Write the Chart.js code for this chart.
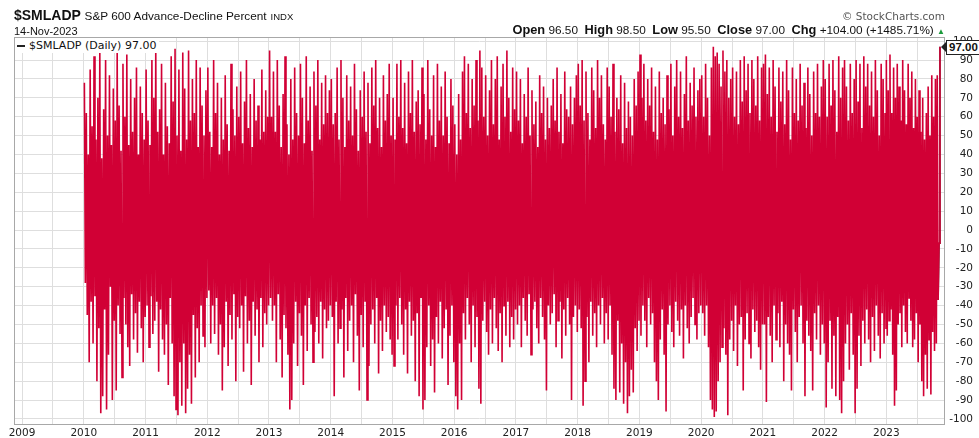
<!DOCTYPE html>
<html><head><meta charset="utf-8">
<script src="https://cdn.jsdelivr.net/npm/chart.js@4.4.0/dist/chart.umd.min.js"></script>
<style>
body{margin:0;background:#fff;}
#wrap{position:relative;width:979px;height:438px;overflow:hidden;}
#c{position:absolute;left:0;top:0;}
.t{position:absolute;white-space:nowrap;line-height:1;color:#111;}
#tag{position:absolute;font:bold 11.5px 'Liberation Sans',Arial,sans-serif;border:1px solid #222;background:#fff;padding:1px 2px 1px 2px;line-height:1;color:#111;}
#ptr{position:absolute;width:0;height:0;border-top:5px solid transparent;border-bottom:5px solid transparent;border-right:5px solid #222;}
</style></head>
<body>
<div id="wrap">
<canvas id="c" width="979" height="438"></canvas>
<div class="t" style="left:14px;top:7px;font:bold 14px 'Liberation Sans',Arial,sans-serif;">$SMLADP <span style="font:normal 11.8px 'Liberation Sans',Arial,sans-serif;">S&amp;P 600 Advance-Decline Percent</span> <span style="font:normal 9.5px 'Liberation Sans',Arial,sans-serif;">INDX</span></div>
<div class="t" style="left:14px;top:25px;font:11px 'Liberation Sans',Arial,sans-serif;">14-Nov-2023</div>
<div class="t" style="right:34px;top:10px;font:10.5px 'DejaVu Sans',sans-serif;color:#555;">© StockCharts.com</div>
<div class="t" id="ohlc" style="right:34px;top:22px;font:11.8px 'Liberation Sans',Arial,sans-serif;"><b style="font-size:12.8px">Open</b> 96.50 &nbsp;<b style="font-size:12.8px">High</b> 98.50 &nbsp;<b style="font-size:12.8px">Low</b> 95.50 &nbsp;<b style="font-size:12.8px">Close</b> 97.00 &nbsp;<b style="font-size:12.8px">Chg</b> +104.00 (+1485.71%) <span style="color:#1a9a3a;font-size:8px">▲</span></div>
<div class="t" id="legend" style="left:15px;top:38px;background:#fff;padding:1px 3px 1px 2px;font:11px 'DejaVu Sans',sans-serif;"><span style="display:inline-block;width:8px;height:2px;background:#222;vertical-align:middle;margin-right:4px;"></span>$SMLADP (Daily) 97.00</div>
<div id="ptr"></div>
<div id="tag"></div>
</div>
<script>
// Years shown on the axis
const yearTicks = [2009,2010,2011,2012,2013,2014,2015,2016,2017,2018,2019,2020,2021,2022,2023];
const valueTicks = [-100,-90,-80,-70,-60,-50,-40,-30,-20,-10,0,10,20,30,40,50,60,70,80,90,100];
// Estimated Advance-Decline Percent samples, per year
const y2010 = [78,-28,62,-45,40,-70,85,-38,55,-60,92,-35,48,-80,70,-52,95,-97,38,-88,64,-42,90,-95,50,-66,82,-30,45,-90,75,-48,58,-85,94,-40,66,-55,42,-78,88,-36,60,-50,93,-62,45,-72,80,-34,52,-58,70,-44,86,-65,40,-38,76,-52,62,-70,48,-46];
const y2011 = [85,-40,58,-62,45,-35,90,-55,70,-48,96,-38,52,-75,64,-42,88,-58,40,-66,78,-50,55,-82,46,-36,92,-60,68,-88,96,-95,50,-98,85,-70,42,-93,94,-60,75,-97,48,-84,95,-66,58,-92,80,-45,62,-78,90,-52,44,-70,86,-40,66,-56,50,-62,74,-36];
const y2012 = [86,-32,52,-60,44,-40,90,-55,62,-36,78,-66,40,-50,70,-85,48,-62,82,-38,56,-72,42,-45,88,-58,64,-34,50,-80,76,-46,60,-52,84,-40,46,-75,68,-35,90,-60,54,-48,72,-82,44,-38,80,-56,58,-42,66,-70,48,-36,85,-62,52,-44,74,-50,60,-40];
const y2013 = [95,-36,60,-48,84,-40,52,-70,90,-34,66,-58,44,-78,72,-45,92,-52,56,-66,40,-95,80,-90,48,-60,86,-38,62,-72,50,-44,88,-56,70,-82,46,-40,92,-64,58,-36,76,-50,42,-70,84,-54,66,-46,90,-60,48,-38,78,-68,56,-42,82,-52,62,-48,74,-40];
const y2014 = [80,-46,56,-88,62,-38,86,-60,48,-52,90,-42,70,-78,44,-36,82,-64,58,-48,76,-40,50,-70,88,-34,64,-56,42,-85,74,-45,60,-62,84,-38,52,-90,78,-72,46,-50,86,-42,66,-60,90,-36,54,-76,70,-48,44,-64,82,-40,58,-54,72,-46,88,-58,50,-66];
const y2015 = [70,-72,48,-40,88,-58,60,-36,90,-50,54,-66,78,-42,46,-76,84,-38,62,-56,90,-48,52,-80,68,-44,74,-88,56,-36,86,-95,72,-90,48,-62,90,-40,64,-72,50,-58,82,-86,44,-46,88,-60,58,-38,76,-68,50,-52,84,-42,60,-82,46,-56,80,-40,66,-70];
const y2016 = [56,-88,40,-95,72,-60,48,-90,84,-44,92,-58,62,-36,88,-50,54,-70,80,-40,66,-62,90,-46,58,-84,95,-92,86,-48,60,-38,82,-54,50,-66,74,-42,90,-60,56,-36,80,-52,92,-64,48,-44,76,-70,88,-40,60,-56,95,-38,70,-62,52,-46,86,-58,64,-42];
const y2017 = [84,-50,58,-40,80,-62,46,-36,72,-48,60,-56,86,-34,50,-66,74,-42,56,-38,68,-52,44,-60,82,-36,62,-46,76,-58,48,-85,70,-40,54,-50,66,-44,80,-34,58,-62,86,-48,52,-38,72,-68,46,-42,84,-56,64,-36,60,-50,76,-90,56,-46,70,-40,82,-54];
const y2018 = [88,-42,66,-52,90,-93,58,-80,84,-46,62,-70,48,-38,86,-56,74,-44,54,-62,90,-40,70,-50,82,-36,56,-60,48,-44,86,-58,76,-40,60,-66,88,-84,52,-90,70,-48,64,-86,82,-60,46,-92,78,-70,54,-97,68,-88,60,-74,50,-86,80,-52,66,-64,84,-48];
const y2019 = [93,-56,70,-40,88,-48,58,-62,80,-36,66,-50,86,-44,52,-70,76,-80,48,-90,84,-58,62,-42,70,-66,56,-96,82,-50,64,-40,88,-54,50,-62,76,-38,90,-48,60,-56,84,-42,54,-68,72,-40,92,-52,58,-60,78,-46,66,-36,86,-50,60,-58,74,-44,80,-40];
const y2020 = [82,-44,60,-56,88,-40,70,-62,50,-90,86,-95,97,-99,92,-96,94,-80,88,-70,76,-62,95,-52,84,-66,90,-98,70,-58,80,-48,86,-64,60,-40,84,-72,56,-50,90,-46,68,-85,92,-58,74,-44,88,-60,62,-68,90,-42,80,-54,66,-48,92,-62,58,-74,86,-50];
const y2021 = [88,-50,93,-91,72,-46,86,-56,60,-70,90,-40,76,-58,52,-44,86,-62,68,-38,84,-80,56,-50,90,-60,74,-66,48,-85,86,-42,62,-54,80,-70,58,-46,88,-40,66,-60,78,-88,54,-48,86,-56,72,-64,50,-85,84,-44,62,-58,88,-40,60,-66,76,-50,90,-60];
const y2022 = [80,-94,60,-70,88,-48,66,-84,90,-56,74,-88,52,-46,92,-90,70,-97,86,-80,90,-60,76,-50,58,-74,88,-44,62,-66,80,-97,90,-84,68,-56,88,-72,54,-48,92,-60,76,-42,88,-58,66,-70,84,-46,60,-64,90,-40,74,-56,50,-68,88,-44,80,-60,62,-52];
const y2023 = [90,-56,74,-48,93,-42,62,-66,86,-93,70,-85,88,-50,76,-44,58,-62,90,-40,74,-54,56,-60,88,-36,70,-48,84,-62,54,-58,80,-44,60,-70,74,-50,52,-80,70,-88,48,-66,62,-84,76,-58,50,-87,82,-54,60,-64,80,-60,82,-37,-7,97];

const seriesByYear = [[2010,y2010],[2011,y2011],[2012,y2012],[2013,y2013],[2014,y2014],[2015,y2015],[2016,y2016],[2017,y2017],[2018,y2018],[2019,y2019],[2020,y2020],[2021,y2021],[2022,y2022],[2023,y2023]];
const lastDate = 2023 + 317/365; // 14-Nov-2023
const pts = [];
seriesByYear.forEach(([yr, arr]) => {
  const n = arr.length;
  arr.forEach((v, j) => {
    const x = (yr === 2023) ? yr + j/(n-1)*(lastDate-2023) : yr + 0.01 + j/n;
    pts.push({x: x, y: v});
  });
});
const lastSeg = pts.slice(-3);

const frame = {
  id:'frame',
  afterDraw(chart){
    const a = chart.chartArea, ctx = chart.ctx;
    ctx.save();
    ctx.strokeStyle = '#a8a8a8'; ctx.lineWidth = 1;
    ctx.strokeRect(Math.round(a.left)+0.5, Math.round(a.top)+0.5, Math.round(a.right-a.left)-1, Math.round(a.bottom-a.top)-1);
    ctx.restore();
  }
};

const chart = new Chart(document.getElementById('c'), {
  type:'line',
  data:{datasets:[
    {data:pts, borderColor:'#d10035', borderWidth:1.6, pointRadius:0, tension:0, fill:false},
    {data:lastSeg, borderColor:'#333333', borderWidth:1.5, pointRadius:0, tension:0, fill:false}
  ]},
  options:{
    responsive:false, animation:false, events:[],
    layout:{padding:{left:14, top:37, right:6, bottom:0}},
    plugins:{legend:{display:false}, tooltip:{enabled:false}},
    scales:{
      x:{type:'linear', min:2008.87, max:2023.95, position:'bottom',
         afterBuildTicks(s){ const t=[]; yearTicks.forEach(y=>{t.push({value:y}); t.push({value:y+0.5});}); s.ticks=t; },
         afterFit(s){ s.height = 13; },
         grid:{color:'#dedede', drawTicks:false, lineWidth:1},
         border:{display:false},
         ticks:{autoSkip:false, maxRotation:0, padding:2, color:'#222', font:{family:'DejaVu Sans', size:10.5},
                callback:(v)=> Number.isInteger(v) ? String(v) : ''}
      },
      y:{type:'linear', position:'right', min:-103.2, max:102.2,
         afterBuildTicks(s){ s.ticks = valueTicks.map(v=>({value:v})); },
         afterFit(s){ s.width = 28; },
         grid:{color:'#dedede', drawTicks:false, lineWidth:1},
         border:{display:false},
         ticks:{autoSkip:false, crossAlign:'far', padding:3, color:'#222', font:{family:'DejaVu Sans', size:10.5}}
      }
    }
  },
  plugins:[frame]
});

// place the last-value tag
const lastV = lastSeg[lastSeg.length-1].y;
const tag = document.getElementById('tag');
tag.textContent = lastV.toFixed(2);
const py = chart.scales.y.getPixelForValue(lastV);
const ar = chart.chartArea.right;
tag.style.left = (ar + 1) + 'px';
tag.style.top = (py - 7) + 'px';
const ptr = document.getElementById('ptr');
ptr.style.left = (ar - 4) + 'px';
ptr.style.top = (py - 5) + 'px';
</script>
</body></html>
